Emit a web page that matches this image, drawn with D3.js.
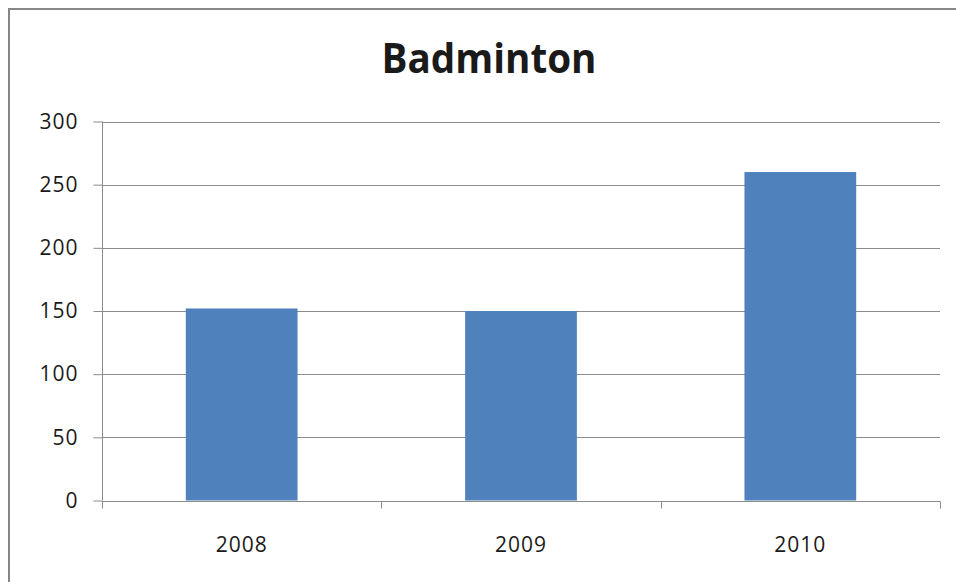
<!DOCTYPE html>
<html>
<head>
<meta charset="utf-8">
<script src="https://cdn.jsdelivr.net/npm/d3@7"></script>
<style>
  html, body { margin: 0; padding: 0; background: #fff; }
  svg { display: block; }
  text { font-family: "Open Sans", "Liberation Sans", sans-serif; fill: #1a1a1a; }
</style>
</head>
<body>
<svg id="chart" width="956" height="582"></svg>
<script>
// Badminton participants per year
const title = "Badminton";
const years = ["2008", "2009", "2010"];
const values = [152, 150, 260];
const yTicks = [0, 50, 100, 150, 200, 250, 300];

const svg = d3.select("#chart");
const W = 956, H = 582;
const plot = { left: 102, right: 940, top: 121.5, bottom: 500.5 };

// Outer chart frame (runs past the right and bottom edges)
svg.append("rect")
  .attr("x", 9).attr("y", 9)
  .attr("width", W + 20).attr("height", H + 20)
  .attr("fill", "#fff")
  .attr("stroke", "#868686").attr("stroke-width", 2);

const x = d3.scaleBand()
  .domain(years)
  .range([plot.left, plot.right])
  .paddingInner(0.6)
  .paddingOuter(0.3);

const y = d3.scaleLinear()
  .domain([0, 300])
  .range([plot.bottom, plot.top]);

// Horizontal gridlines
svg.append("g")
  .selectAll("line")
  .data(yTicks.filter(d => d > 0))
  .join("line")
  .attr("x1", plot.left).attr("x2", plot.right)
  .attr("y1", d => Math.round(y(d)) + 0.5)
  .attr("y2", d => Math.round(y(d)) + 0.5)
  .attr("stroke", "#8c8c8c").attr("stroke-width", 1);

// Bars
svg.append("g")
  .selectAll("rect")
  .data(values)
  .join("rect")
  .attr("x", (d, i) => x(years[i]))
  .attr("width", x.bandwidth())
  .attr("y", d => y(d))
  .attr("height", d => y(0) - y(d))
  .attr("fill", "#4f81bd");

// Y axis
const yAxis = svg.append("g")
  .attr("transform", `translate(${plot.left + 0.5},0)`)
  .call(d3.axisLeft(y).tickValues(yTicks).tickSize(9).tickPadding(15));
yAxis.selectAll("line, path").attr("stroke", "#8c8c8c");
yAxis.select(".domain").attr("d", `M0,${plot.top}V${plot.bottom}`);
yAxis.selectAll("text")
  .style("font-size", "21px")
  .style("letter-spacing", "1px")
  .attr("fill", "#1a1a1a");

// X axis with ticks at category boundaries
const xAxisG = svg.append("g")
  .attr("transform", `translate(0,${Math.round(plot.bottom) + 0.5})`);
xAxisG.append("line")
  .attr("x1", plot.left).attr("x2", plot.right)
  .attr("stroke", "#8c8c8c");
const edges = [plot.left, ...years.slice(1).map(d => x(d) - x.step() * 0.3), plot.right];
xAxisG.selectAll("line.tick")
  .data(edges)
  .join("line")
  .attr("class", "tick")
  .attr("x1", d => Math.round(d) + 0.5).attr("x2", d => Math.round(d) + 0.5)
  .attr("y1", 0).attr("y2", 7)
  .attr("stroke", "#8c8c8c");
xAxisG.selectAll("text")
  .data(years)
  .join("text")
  .attr("x", d => x(d) + x.bandwidth() / 2)
  .attr("y", 50)
  .attr("text-anchor", "middle")
  .style("font-size", "21px")
  .style("letter-spacing", "1px")
  .text(d => d);

// Title
svg.append("text")
  .attr("x", 489)
  .attr("y", 73)
  .attr("text-anchor", "middle")
  .style("font-size", "41px")
  .style("font-weight", "700")
  .attr("textLength", 215)
  .attr("lengthAdjust", "spacingAndGlyphs")
  .attr("fill", "#000")
  .text(title);
</script>
</body>
</html>
